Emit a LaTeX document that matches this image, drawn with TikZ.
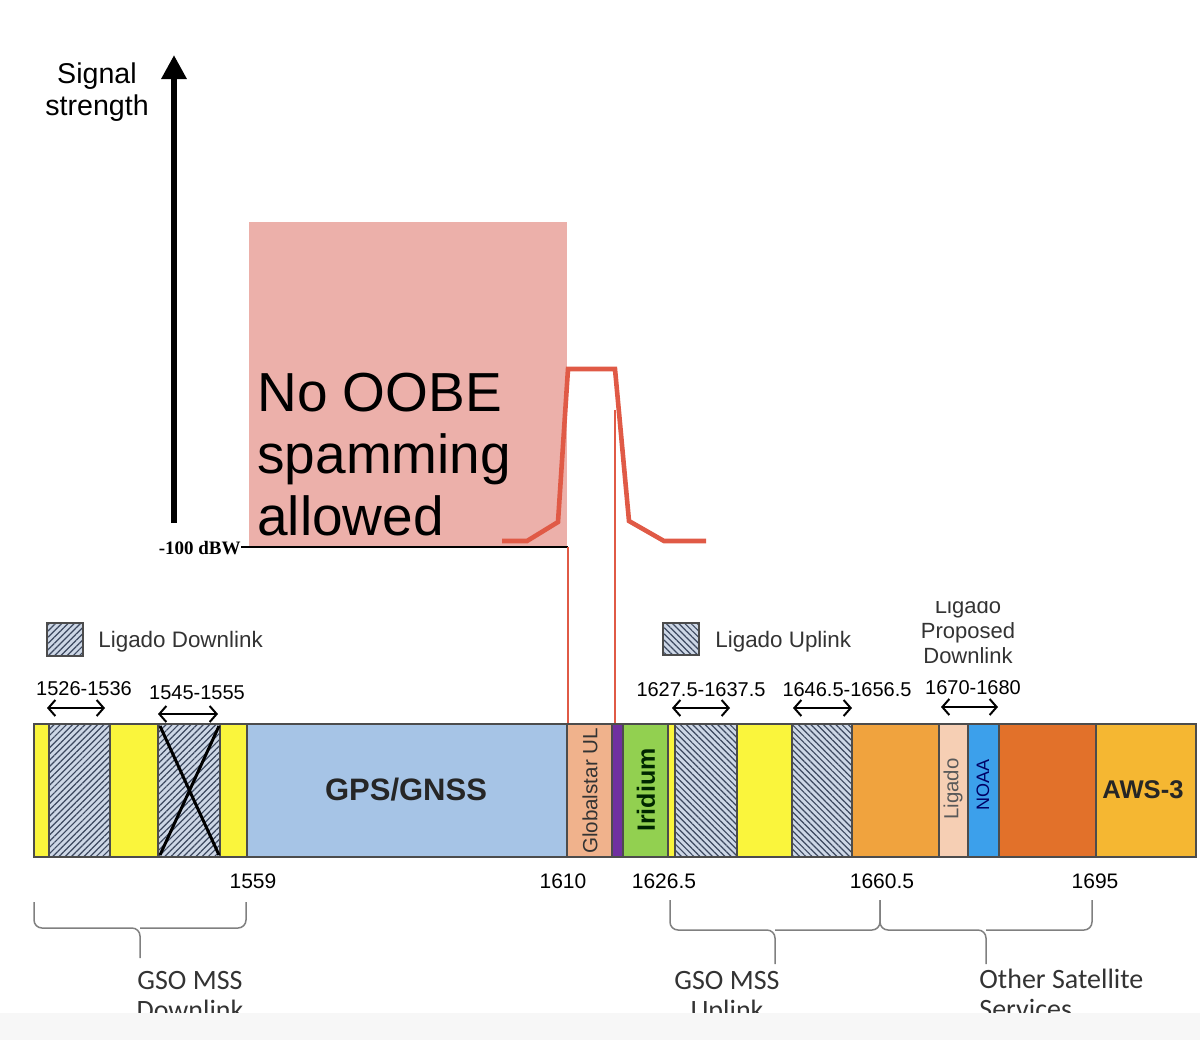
\documentclass[tikz,border=0pt]{standalone}
\usepackage{fontspec}
\setmainfont{Liberation Sans}
\newfontfamily\calibrifont{Carlito}
\newfontfamily\timesfont{Liberation Serif}
\usetikzlibrary{arrows.meta,patterns.meta}
\definecolor{bandyellow}{RGB}{250,245,60}
\definecolor{hatchbg}{RGB}{205,215,230}
\definecolor{hatchfg}{RGB}{60,72,95}
\definecolor{gpsblue}{RGB}{166,196,230}
\definecolor{globpeach}{RGB}{240,178,140}
\definecolor{irpurple}{RGB}{112,48,160}
\definecolor{irgreen}{RGB}{146,208,80}
\definecolor{mssorange}{RGB}{240,163,62}
\definecolor{ligpeach}{RGB}{246,207,180}
\definecolor{noaablue}{RGB}{60,160,235}
\definecolor{darkorange}{RGB}{226,113,42}
\definecolor{awsgold}{RGB}{245,183,50}
\definecolor{oobepink}{RGB}{236,176,170}
\definecolor{curvered}{RGB}{224,90,70}
\newcommand{\fsz}[2]{\fontsize{#1}{#2}\selectfont}
\begin{document}
\begin{tikzpicture}[x=0.5pt,y=-0.5pt,
    bandseg/.style={draw=black!70,line width=0.7pt},
    hatchdn/.style={fill=hatchbg,postaction={pattern={Lines[angle=45,distance=2.2pt,line width=0.6pt]},pattern color=hatchfg},postaction={draw=black!70,line width=0.7pt}},
    hatchup/.style={fill=hatchbg,postaction={pattern={Lines[angle=-45,distance=2.2pt,line width=0.6pt]},pattern color=hatchfg},postaction={draw=black!70,line width=0.7pt}},
    rangearrow/.style={{Straight Barb[length=3.5pt,width=8pt]}-{Straight Barb[length=3.5pt,width=8pt]},line width=1pt},
    freqlbl/.style={inner sep=0pt,font=\fsz{10pt}{12pt}},
    freqmark/.style={inner sep=0pt,font=\fsz{10.5pt}{12pt}},
    bracepath/.style={draw=black!50,line width=0.75pt,rounded corners=4pt},
    grouplbl/.style={inner sep=0pt,anchor=north,align=center,font=\calibrifont\fsz{14pt}{15pt},text=black!80}]
    \useasboundingbox (0,0) rectangle (1200,1040);
    \fill[oobepink] (249,222) rectangle (567,546);
    \draw[line width=3pt,-{Triangle[length=12pt,width=12pt]}] (174,523) -- (174,55);
    \node[inner sep=0pt,anchor=north,align=center,font=\fsz{14.3pt}{16pt}] (ylabel) at (97,62) {Signal\\strength};
    \node[inner sep=0pt,anchor=north west,align=left,font=\fsz{27.5pt}{31pt}] (oobe) at (257,373) {No OOBE\\spamming\\allowed};
    \node[inner sep=0pt,anchor=base east,font=\timesfont\bfseries\fsz{9.5pt}{11pt}] (dbw) at (241,554) {-100 dBW};
    \draw[line width=0.8pt] (dbw.base east) ++(0,-7) coordinate (lvl) -- (568,547);
    \draw[curvered,line width=0.7pt] (568,547) -- (568,735);
    \draw[curvered,line width=0.7pt] (615,410) -- (615,740);
    \draw[curvered,line width=2.3pt] (502,541) -- (527,541) -- (558,522) -- (568,369) -- (615,369) -- (629,521) -- (664,541) -- (706,541);
    \foreach \a/\b/\c in {34/49/bandyellow,110/158/bandyellow,220/247/bandyellow,247/567/gpsblue,567/612/globpeach,612/623/irpurple,623/668/irgreen,668/675/bandyellow,737/792/bandyellow,852/939/mssorange,939/968/ligpeach,968/999/noaablue,999/1096/darkorange,1096/1196/awsgold}
        \draw[bandseg,fill=\c] (\a,724) rectangle (\b,857);
    \foreach \a/\b in {49/110,158/220}
        \path[hatchdn] (\a,724) rectangle (\b,857);
    \foreach \a/\b in {675/737,792/852}
        \path[hatchup] (\a,724) rectangle (\b,857);
    \draw[line width=1.5pt] (160,726) -- (219,855) (219,726) -- (160,855);
    \path[hatchdn] (47,623) rectangle (83,656);
    \path[hatchup] (663,623) rectangle (699,655);
    \node[inner sep=0pt,anchor=west,font=\fsz{11.2pt}{13pt},text=black!80] (legdn) at (98,642) {Ligado Downlink};
    \node[inner sep=0pt,anchor=west,font=\fsz{11.2pt}{13pt},text=black!80] (legup) at (715,642) {Ligado Uplink};
    \node[inner sep=0pt,anchor=north,align=center,font=\fsz{11pt}{12.5pt},text=black!80] (proposed) at (968,597) {Ligado\\Proposed\\Downlink};
    \fill[white] (900,560) rectangle (1040,601);
    \node[freqlbl] (r1) at (84,689) {1526-1536};
    \node[freqlbl] (r2) at (197,693) {1545-1555};
    \node[freqlbl] (r3) at (701,690) {1627.5-1637.5};
    \node[freqlbl] (r4) at (847,690) {1646.5-1656.5};
    \node[freqlbl] (r5) at (973,688) {1670-1680};
    \draw[rangearrow] (47,708) -- (105,708);
    \draw[rangearrow] (158,714) -- (218,714);
    \draw[rangearrow] (672,708) -- (730,708);
    \draw[rangearrow] (793,708) -- (852,708);
    \draw[rangearrow] (941,707) -- (998,707);
    \node[inner sep=0pt,font=\bfseries\fsz{15.5pt}{17pt},text=black!85] (gps) at (406,790) {GPS/GNSS};
    \node[inner sep=0pt,font=\bfseries\fsz{12.8pt}{14pt},text=black!85] (aws) at (1143,790) {AWS-3};
    \node[inner sep=0pt,rotate=90,font=\fsz{10.3pt}{12pt},text=black!80] (glob) at (590,791) {Globalstar UL};
    \node[inner sep=0pt,rotate=90,font=\bfseries\fsz{12.5pt}{14pt},text=black!75!green!60!black] (irid) at (646,790) {Iridium};
    \node[inner sep=0pt,rotate=90,font=\fsz{10.2pt}{12pt},text=black!65] (ligado) at (953,789) {Ligado};
    \node[inner sep=0pt,rotate=90,font=\fsz{9pt}{11pt},text=blue!40!black] (noaa) at (983,785) {NOAA};
    \node[freqmark] (f1559) at (253,881) {1559};
    \node[freqmark] (f1610) at (563,881) {1610};
    \node[freqmark] (f1626) at (664,881) {1626.5};
    \node[freqmark] (f1660) at (882,881) {1660.5};
    \node[freqmark] (f1695) at (1095,881) {1695};
    \draw[bracepath] (34,902) |- (140,928) -- (140,958);
    \draw[bracepath] (246,902) |- (140,928);
    \draw[bracepath] (670,900) |- (775,930) -- (775,964);
    \draw[bracepath] (880,900) |- (775,930);
    \draw[bracepath] (880,900) |- (986,930) -- (986,964);
    \draw[bracepath] (1092,900) |- (986,930);
    \node[grouplbl] (gsodn) at (190,971) {GSO MSS\\Downlink};
    \node[grouplbl] (gsoup) at (727,971) {GSO MSS\\Uplink};
    \node[grouplbl,anchor=north west,align=left] (other) at (979,969) {Other Satellite\\Services};
    \fill[white!97!black] (0,1013) rectangle (1200,1040);
\end{tikzpicture}
\end{document}
